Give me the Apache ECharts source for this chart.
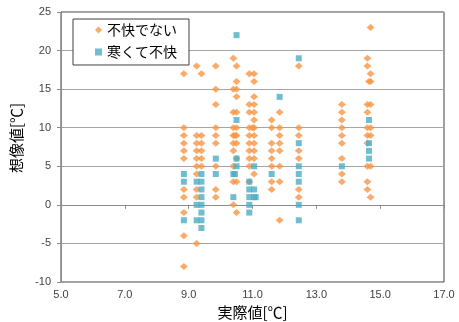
<!DOCTYPE html>
<html>
<head>
<meta charset="utf-8">
<script src="https://cdn.jsdelivr.net/npm/echarts@6/dist/echarts.min.js"></script>
<style>
html,body{margin:0;padding:0;background:#fff;}
#chart{width:459px;height:322px;}
</style>
</head>
<body>
<div id="chart"></div>
<script>
// Series names
const seriesNames = ['不快でない', '寒くて不快'];
// Axis titles
const xAxisTitle = '実際値[℃]';
const yAxisTitle = '想像値[℃]';

// 不快でない (orange diamonds): [actual, imagined]
const notUncomfortable = [
  [8.85,17],[8.85,10],[8.85,9],[8.85,8],[8.85,7],[8.85,6],[8.85,2],[8.85,1],[8.85,-1],[8.85,-4],[8.85,-8],
  [9.25,18],[9.25,9],[9.25,8],[9.25,7],[9.25,6],[9.25,5],[9.25,4],[9.25,2],[9.25,1],[9.25,-5],
  [9.4,17],[9.4,9],[9.4,8],[9.4,7],[9.4,6],[9.4,5],
  [9.85,18],[9.85,15],[9.85,13],[9.85,10],[9.85,9],[9.85,8],[9.85,5],[9.85,2],[9.85,1],
  [10.4,19],[10.4,15],[10.4,12],[10.4,10],[10.4,9],[10.4,8],[10.4,7],[10.4,5],[10.4,3],[10.4,0],
  [10.5,18],[10.5,16],[10.5,15],[10.5,14],[10.5,12],[10.5,10],[10.5,9],[10.45,9],[10.5,8],[10.5,6],[10.5,3],[10.5,-1],
  [10.9,17],[10.9,13],[10.9,12],[10.9,10],[10.9,9],[10.9,8],[10.9,7],[10.9,6],[10.9,5],[10.9,3],
  [11.05,17],[11.05,16],[11.05,14],[11.05,13],[11.05,12],[11.05,11],[11.05,10],[11.0,10],[11.05,9],[11.05,8],[11.05,7],[11.05,6],[11.05,4],
  [11.6,11],[11.6,10],[11.6,8],[11.6,7],[11.6,6],[11.6,5],[11.6,3],[11.6,2],
  [11.85,12],[11.85,10],[11.85,9],[11.85,8],[11.85,7],[11.85,5],[11.85,3],[11.85,-2],
  [12.45,18],[12.45,10],[12.45,9],[12.45,7],[12.45,6],[12.45,2],[12.45,1],
  [13.8,13],[13.8,12],[13.8,11],[13.8,10],[13.8,9],[13.8,8],[13.8,6],[13.8,4],[13.8,3],
  [14.6,19],[14.6,18],[14.6,13],[14.6,12],[14.6,10],[14.6,9],[14.6,8],[14.6,5],[14.6,3],[14.6,2],
  [14.7,23],[14.7,17],[14.7,16],[14.65,16],[14.7,13],[14.7,10],[14.7,9],[14.7,5],[14.7,1]
];

// 寒くて不快 (teal squares): [actual, imagined]
const coldUncomfortable = [
  [8.85,4],[8.85,3],[8.85,-2],
  [9.25,3],[9.25,0],[9.25,-2],
  [9.4,4],[9.4,3],[9.4,2],[9.4,1],[9.4,0],[9.4,-1],[9.4,-2],[9.4,-3],
  [9.85,6],[9.85,4],
  [10.5,22],[10.5,11],[10.5,6],[10.5,5],[10.4,4],[10.45,4],[10.4,1],
  [10.9,3],[10.9,2],[10.9,1],[10.9,0],[10.9,-1],
  [11.05,5],[11.05,2],[11.05,1],[11.1,1],
  [11.6,4],
  [11.85,14],
  [12.45,19],[12.45,8],[12.45,5],[12.45,4],[12.45,3],[12.45,0],[12.45,-2],
  [13.8,5],
  [14.65,11],[14.65,8],[14.65,7],[14.65,6]
];

// Axis ranges
const xMin = 5, xMax = 17, xStep = 2;
const yMin = -10, yMax = 25, yStep = 5;

const chart = echarts.init(document.getElementById('chart'), null, {renderer: 'canvas'});
const jp = '"Noto Sans CJK JP", "Noto Sans", sans-serif';
const num = '"Liberation Sans", "DejaVu Sans", sans-serif';

chart.setOption({
  animation: false,
  backgroundColor: '#ffffff',
  grid: {
    left: 61, right: 15, top: 12, bottom: 40,
    outerBoundsMode: 'none', containLabel: false,
    show: true, borderColor: '#404040', borderWidth: 1, backgroundColor: 'transparent'
  },
  legend: {
    orient: 'vertical',
    left: 73, top: 19,
    padding: [4, 12, 6, 22],
    itemGap: 8,
    itemWidth: 7, itemHeight: 7,
    backgroundColor: '#ffffff',
    borderColor: '#404040', borderWidth: 1,
    textStyle: {fontFamily: jp, fontSize: 14, color: '#000'},
    data: seriesNames
  },
  xAxis: {
    type: 'value',
    min: xMin, max: xMax, interval: xStep,
    name: xAxisTitle, nameLocation: 'middle', nameGap: 22,
    nameTextStyle: {fontFamily: jp, fontSize: 15, color: '#000'},
    axisLine: {show: true, lineStyle: {color: '#8c8c8c'}},
    axisTick: {show: true, length: 4, inside: false, lineStyle: {color: '#8c8c8c'}},
    axisLabel: {fontFamily: num, fontSize: 11, color: '#404040', margin: 7,
      formatter: v => v.toFixed(1)},
    splitLine: {show: false}
  },
  yAxis: {
    type: 'value',
    min: yMin, max: yMax, interval: yStep,
    name: yAxisTitle, nameLocation: 'middle', nameGap: 34, nameRotate: 90,
    nameTextStyle: {fontFamily: jp, fontSize: 15, color: '#000', padding: [0, 0, 0, 18]},
    axisLine: {show: true, lineStyle: {color: '#8c8c8c'}},
    axisTick: {show: true, length: 4, lineStyle: {color: '#8c8c8c'}},
    axisLabel: {fontFamily: num, fontSize: 11, color: '#404040', margin: 10},
    splitLine: {show: true, lineStyle: {color: '#a6a6a6', width: 1}}
  },
  series: [
    {
      name: seriesNames[0], type: 'scatter',
      symbol: 'diamond', symbolSize: [8, 7],
      itemStyle: {color: '#F79646'},
      data: notUncomfortable, z: 2
    },
    {
      name: seriesNames[1], type: 'scatter',
      symbol: 'rect', symbolSize: [6, 6],
      itemStyle: {color: '#4BACC6'},
      data: coldUncomfortable, z: 3
    }
  ]
});
</script>
</body>
</html>
